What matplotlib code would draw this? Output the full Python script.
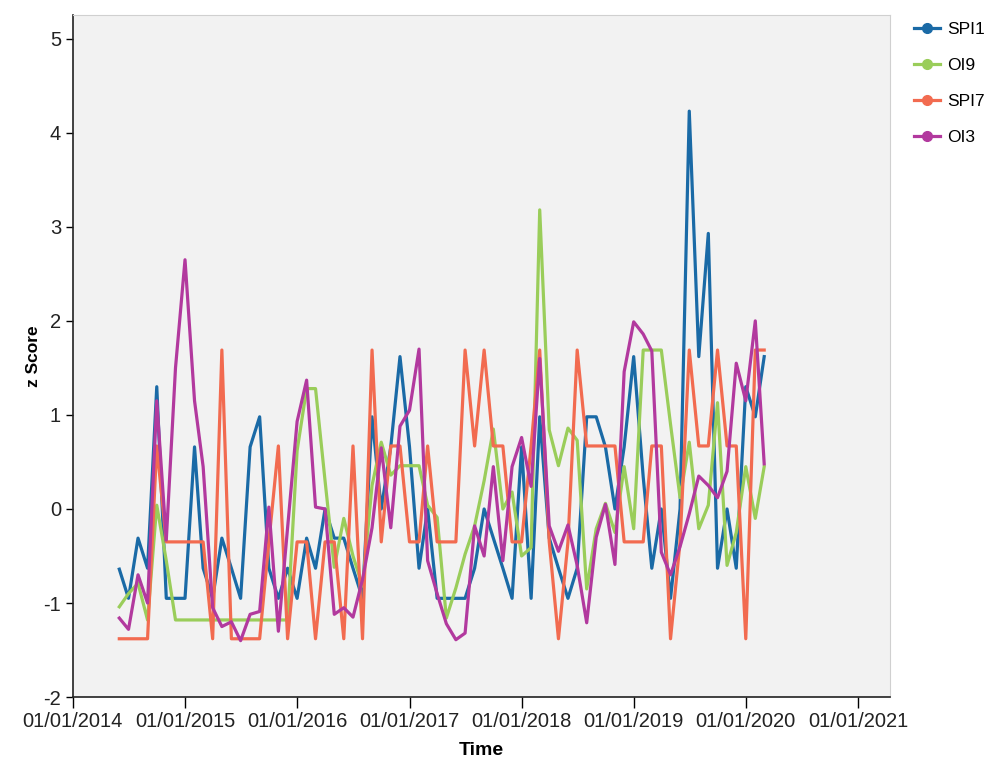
import numpy as np
import pandas as pd
import matplotlib
matplotlib.use("Agg")
import matplotlib.pyplot as plt
import matplotlib.dates as mdates
from matplotlib.lines import Line2D

plt.rcParams['font.family'] = ['Liberation Sans', 'DejaVu Sans']
plt.rcParams['axes.unicode_minus'] = False

dates = pd.date_range('2014-06-01', periods=70, freq='MS')

spi1 = [-0.64, -0.95, -0.31, -0.63, 1.30, -0.95, -0.95, -0.95, 0.66, -0.63,
        -0.95, -0.31, -0.63, -0.95, 0.66, 0.98, -0.63, -0.95, -0.63, -0.95,
        -0.31, -0.63, 0.00, -0.31, -0.31, -0.63, -0.95, 0.98, 0.00, 0.66,
        1.62, 0.66, -0.63, 0.00, -0.95, -0.95, -0.95, -0.95, -0.63, 0.00,
        -0.31, -0.63, -0.95, 0.66, -0.95, 0.98, -0.31, -0.63, -0.95, -0.63,
        0.98, 0.98, 0.66, 0.00, 0.66, 1.62, 0.34, -0.63, 0.00, -0.95,
        0.00, 4.23, 1.62, 2.93, -0.63, 0.00, -0.63, 1.30, 0.98, 1.62]

oi9 = [-1.04, -0.90, -0.79, -1.18, 0.04, -0.55, -1.18, -1.18, -1.18, -1.18,
       -1.18, -1.18, -1.18, -1.18, -1.18, -1.18, -1.18, -1.18, -1.18, 0.62,
       1.28, 1.28, 0.30, -0.62, -0.10, -0.50, -0.82, 0.25, 0.71, 0.36,
       0.46, 0.46, 0.46, 0.04, -0.09, -1.16, -0.84, -0.48, -0.18, 0.30,
       0.85, 0.00, 0.18, -0.50, -0.41, 3.18, 0.84, 0.46, 0.86, 0.73,
       -0.85, -0.21, 0.06, -0.25, 0.45, -0.21, 1.69, 1.69, 1.69, 0.90,
       0.12, 0.71, -0.21, 0.04, 1.13, -0.60, -0.25, 0.45, -0.10, 0.45]

spi7 = [-1.38, -1.38, -1.38, -1.38, 0.67, -0.35, -0.35, -0.35, -0.35, -0.35,
        -1.38, 1.69, -1.38, -1.38, -1.38, -1.38, -0.35, 0.67, -1.38, -0.35,
        -0.35, -1.38, -0.35, -0.35, -1.38, 0.67, -1.38, 1.69, -0.35, 0.67,
        0.67, -0.35, -0.35, 0.67, -0.35, -0.35, -0.35, 1.69, 0.67, 1.69,
        0.67, 0.67, -0.35, -0.35, 0.67, 1.69, -0.35, -1.38, -0.35, 1.69,
        0.67, 0.67, 0.67, 0.67, -0.35, -0.35, -0.35, 0.67, 0.67, -1.38,
        -0.35, 1.69, 0.67, 0.67, 1.69, 0.67, 0.67, -1.38, 1.69, 1.69]

oi3 = [-1.16, -1.28, -0.70, -1.00, 1.15, -0.33, 1.50, 2.65, 1.15, 0.45,
       -1.05, -1.25, -1.20, -1.40, -1.12, -1.09, 0.02, -1.30, -0.20, 0.93,
       1.37, 0.02, 0.00, -1.12, -1.05, -1.15, -0.75, -0.20, 0.65, -0.20,
       0.88, 1.05, 1.70, -0.55, -0.90, -1.22, -1.39, -1.32, -0.18, -0.50,
       0.45, -0.55, 0.45, 0.76, 0.24, 1.60, -0.18, -0.45, -0.17, -0.60,
       -1.21, -0.30, 0.05, -0.59, 1.46, 1.99, 1.86, 1.68, -0.46, -0.70,
       -0.40, -0.05, 0.35, 0.25, 0.12, 0.40, 1.55, 1.15, 2.00, 0.48]

names = ['SPI1', 'OI9', 'SPI7', 'OI3']
colors = ['#1a6aa6', '#9acd5a', '#f26b50', '#b2399e']
series = [spi1, oi9, spi7, oi3]

fig = plt.figure(figsize=(9.99, 7.61), dpi=100)
ax = fig.add_axes([0.073, 0.084, 0.818, 0.896])
ax.set_facecolor('#f2f2f2')

for s, c in zip(series, colors):
    ax.plot(dates, s, color=c, lw=2.3)

ax.set_ylim(-2, 5.25)
ax.set_yticks(range(-2, 6))
ax.set_xlim(pd.Timestamp('2014-01-01'), pd.Timestamp('2021-04-15'))
ax.xaxis.set_major_locator(mdates.YearLocator())
ax.xaxis.set_major_formatter(mdates.DateFormatter('%d/%m/%Y'))

ax.tick_params(axis='x', direction='out', length=8, width=1, labelsize=14.5, pad=3,
               labelcolor='#222222')
ax.tick_params(axis='y', direction='out', length=5, width=1, labelsize=14.5,
               labelcolor='#222222')
for side in ['left', 'bottom']:
    ax.spines[side].set_color('#222222')
    ax.spines[side].set_linewidth(1.2)
for side in ['top', 'right']:
    ax.spines[side].set_color('#d0d0d0')
    ax.spines[side].set_linewidth(0.8)

ax.set_xlabel('Time', fontsize=14, fontweight='bold', labelpad=8)
ax.set_ylabel('z Score', fontsize=12.5, fontweight='bold', labelpad=2)

handles = [Line2D([0], [0], color=c, lw=2.3, marker='o', markersize=7) for c in colors]
fig.legend(handles, names, loc='upper left', bbox_to_anchor=(0.903, 0.987),
           frameon=False, fontsize=12.5, handlelength=1.5, labelspacing=1.2,
           handletextpad=0.4, borderaxespad=0.3)

fig.savefig('out.png', dpi=100)
